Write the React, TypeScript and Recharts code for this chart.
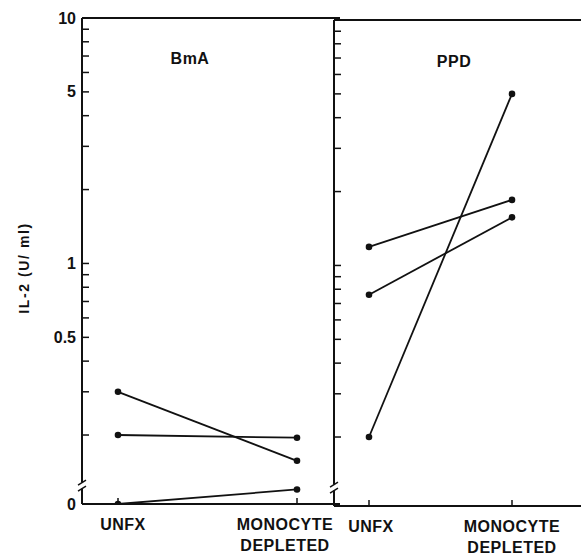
import React from "react";
import { LineChart, Line, XAxis, YAxis, ReferenceLine } from "recharts";

const categories = ["UNFX", "MONOCYTE DEPLETED"];
const panelTitles = ["BmA", "PPD"];

// IL-2 (U/ml) for each donor: [UNFX, MONOCYTE DEPLETED]
const bmaDonorA = [0.3, 0.157];
const bmaDonorB = [0.2, 0.195];
const bmaDonorC = [0, 0.12];
const ppdDonorA = [1.19, 1.85];
const ppdDonorB = [0.76, 1.57];
const ppdDonorC = [0.2, 5.0];

const labeledTicks = [10, 5, 1, 0.5, 0];
const minorTicks = [9, 8, 7, 6, 4, 3, 2, 0.9, 0.8, 0.7, 0.6, 0.4, 0.3, 0.2];

const INK = "#111";
const LOG_FLOOR = -0.98; // where "0" sits, under the axis break
const BREAK_AT = -0.905;
const toLog = (v: number) => (v <= 0 ? LOG_FLOOR : Math.log10(v));

const yTickValues = [...labeledTicks, ...minorTicks].map(toLog).concat([BREAK_AT]);

const textFont = {
  fontFamily: '"Liberation Sans", Arial, sans-serif',
  fontWeight: 700,
  fontSize: 16,
  fill: INK,
};

function YTick(props: any) {
  const { x, y, payload, showLabels } = props;
  const v = payload.value;
  if (Math.abs(v - BREAK_AT) < 1e-6) {
    return (
      <g>
        <rect x={x - 5} y={y - 3} width={10} height={6} fill="#fff" />
        <line x1={x - 4} y1={y - 0.5} x2={x + 4} y2={y - 5.5} stroke={INK} strokeWidth={1.5} />
        <line x1={x - 4} y1={y + 5.5} x2={x + 4} y2={y + 0.5} stroke={INK} strokeWidth={1.5} />
      </g>
    );
  }
  const label = labeledTicks.find((t) => Math.abs(toLog(t) - v) < 1e-6);
  return (
    <g>
      {label !== 0 && (
        <line x1={x} x2={x + 7} y1={y} y2={y} stroke={INK} strokeWidth={1.5} />
      )}
      {showLabels && label !== undefined && (
        <text x={x - 6} y={y} dy={5.5} textAnchor="end" style={textFont}>
          {label}
        </text>
      )}
    </g>
  );
}

function XTick(props: any) {
  const { x, y, payload, index, shift } = props;
  const lines = String(payload.value).split(" ");
  const tx = x + (shift[index] ?? 0);
  return (
    <g>
      <line x1={x} x2={x} y1={y} y2={y - 6} stroke={INK} strokeWidth={1.5} />
      <text x={tx} y={y + 26} textAnchor="middle" style={{ ...textFont, letterSpacing: 0.5 }}>
        {lines.map((ln, i) => (
          <tspan key={i} x={tx} dy={i === 0 ? 0 : 21}>
            {ln}
          </tspan>
        ))}
      </text>
    </g>
  );
}

function Panel({
  series,
  left,
  width,
  top,
  bottom,
  yAxisWidth,
  padding,
  showLabels,
  labelShift,
}: {
  series: number[][];
  left: number;
  width: number;
  top: number;
  bottom: number;
  yAxisWidth: number;
  padding: { left: number; right: number };
  showLabels: boolean;
  labelShift: number[];
}) {
  const data = categories.map((cat, i) => {
    const row: Record<string, string | number> = { cat };
    series.forEach((s, k) => {
      row[`d${k}`] = toLog(s[i]);
    });
    return row;
  });

  return (
    <div style={{ position: "absolute", left, top: 0 }}>
      <LineChart
        width={width}
        height={556}
        data={data}
        margin={{ top, right: 0, bottom: 0, left: 0 }}
      >
        <XAxis
          dataKey="cat"
          height={556 - bottom}
          padding={padding}
          axisLine={{ stroke: INK, strokeWidth: 2 }}
          tickLine={false}
          tickSize={0}
          tickMargin={0}
          interval={0}
          tick={(p: any) => <XTick {...p} shift={labelShift} />}
        />
        <YAxis
          type="number"
          domain={[LOG_FLOOR, 1]}
          ticks={yTickValues}
          width={yAxisWidth}
          allowDataOverflow
          axisLine={{ stroke: INK, strokeWidth: 2 }}
          tickLine={false}
          tickSize={0}
          tickMargin={0}
          interval={0}
          tick={(p: any) => <YTick {...p} showLabels={showLabels} />}
        />
        <ReferenceLine y={1} stroke={INK} strokeWidth={2} />
        {series.map((_, k) => (
          <Line
            key={k}
            dataKey={`d${k}`}
            stroke={INK}
            strokeWidth={1.8}
            dot={{ r: 3.3, fill: INK, stroke: INK, strokeWidth: 0 }}
            isAnimationActive={false}
          />
        ))}
      </LineChart>
    </div>
  );
}

export default function App() {
  const titleStyle: React.CSSProperties = {
    position: "absolute",
    width: 100,
    textAlign: "center",
    fontFamily: '"Liberation Sans", Arial, sans-serif',
    fontWeight: 700,
    fontSize: 16,
    lineHeight: "16px",
    letterSpacing: 0.5,
    color: INK,
  };
  return (
    <div
      style={{
        position: "absolute",
        left: 0,
        top: 0,
        width: 581,
        height: 556,
        overflow: "hidden",
        background: "#fff",
      }}
    >
      <Panel
        series={[bmaDonorA, bmaDonorB, bmaDonorC]}
        left={0}
        width={340}
        top={18}
        bottom={504}
        yAxisWidth={82}
        padding={{ left: 36, right: 43 }}
        showLabels
        labelShift={[5, -12]}
      />
      <Panel
        series={[ppdDonorA, ppdDonorB, ppdDonorC]}
        left={300}
        width={281}
        top={20}
        bottom={506}
        yAxisWidth={34}
        padding={{ left: 35, right: 69 }}
        showLabels={false}
        labelShift={[2, 0]}
      />
      <div style={{ ...titleStyle, left: 140, top: 51 }}>{panelTitles[0]}</div>
      <div style={{ ...titleStyle, left: 404, top: 54 }}>{panelTitles[1]}</div>
      <div
        style={{
          position: "absolute",
          left: -46,
          top: 259,
          width: 140,
          height: 18,
          lineHeight: "18px",
          textAlign: "center",
          transform: "rotate(-90deg)",
          fontFamily: '"Liberation Sans", Arial, sans-serif',
          fontWeight: 700,
          fontSize: 14,
          letterSpacing: 1.6,
          color: INK,
          whiteSpace: "nowrap",
        }}
      >
        IL-2 (U/ ml)
      </div>
    </div>
  );
}
